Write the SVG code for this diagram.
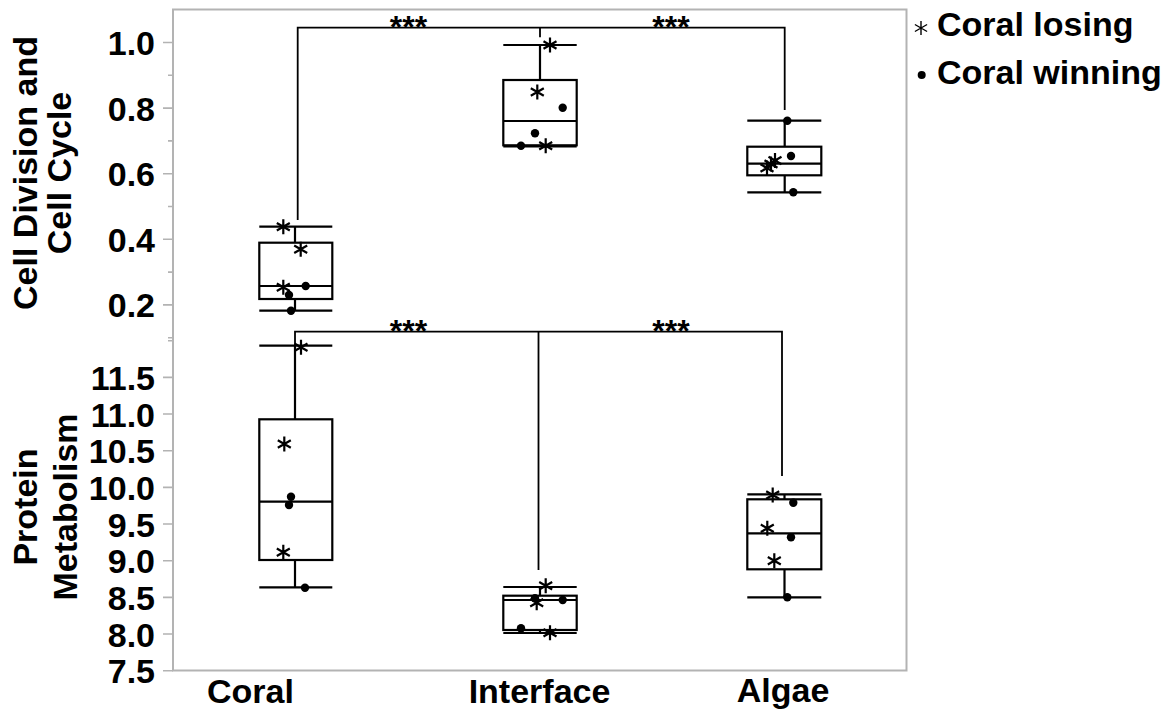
<svg xmlns="http://www.w3.org/2000/svg" xmlns:xlink="http://www.w3.org/1999/xlink" width="1174" height="713" viewBox="0 0 1174 713">
  <style>
    .frame { fill: none; stroke: #b3b3b3; stroke-width: 2; }
    .tick { stroke: #b3b3b3; stroke-width: 1.6; }
    .lbl { font-family: "Liberation Sans", Arial, sans-serif; font-weight: bold; fill: #000; }
    .tk { font-size: 34px; text-anchor: end; }
    .ttl { font-size: 34px; text-anchor: middle; }
    .xl { font-size: 34px; text-anchor: middle; }
    .sig { font-size: 32px; text-anchor: middle; }
    .leg { font-size: 34px; }
    .box { fill: none; stroke: #000; stroke-width: 2.2; }
    .wh { fill: none; stroke: #000; stroke-width: 2.2; }
    .br { fill: none; stroke: #000; stroke-width: 1.8; }
    .dot { fill: #000; }
  </style>
  <defs>
    <path id="star" d="M0,-7.5 V7.5 M-6.5,-3.75 L6.5,3.75 M-6.5,3.75 L6.5,-3.75" fill="none" stroke="#000" stroke-width="2.2"/>
    <path id="legstar" d="M0,-7 V7 M-6.1,-3.5 L6.1,3.5 M-6.1,3.5 L6.1,-3.5" fill="none" stroke="#000" stroke-width="1.4"/>
  </defs>
  <rect width="1174" height="713" fill="#fff"/>

  <!-- plot frame and y axis -->
  <g id="axes">
    <rect class="frame" x="173" y="9.5" width="733.5" height="661"/>
    <!-- upper panel ticks -->
    <path class="tick" d="M163,42.5H173 M163,108.1H173 M163,173.7H173 M163,239.3H173 M163,304.9H173 M168,75.3H173 M168,140.9H173 M168,206.5H173 M168,272.1H173 M168,337.7H173"/>
    <!-- lower panel ticks -->
    <path class="tick" d="M168,340.7H173 M163,377.4H173 M163,414H173 M163,450.7H173 M163,487.4H173 M163,524H173 M163,560.7H173 M163,597.4H173 M163,634H173 M163,670.7H173"/>
    <g class="lbl tk">
      <text x="155" y="55">1.0</text>
      <text x="155" y="120.6">0.8</text>
      <text x="155" y="186.2">0.6</text>
      <text x="155" y="251.8">0.4</text>
      <text x="155" y="317.4">0.2</text>
      <text x="155" y="389.9">11.5</text>
      <text x="155" y="426.5">11.0</text>
      <text x="155" y="463.2">10.5</text>
      <text x="155" y="499.9">10.0</text>
      <text x="155" y="536.5">9.5</text>
      <text x="155" y="573.2">9.0</text>
      <text x="155" y="609.9">8.5</text>
      <text x="155" y="646.5">8.0</text>
      <text x="155" y="683.2">7.5</text>
    </g>
  </g>

  <!-- axis titles -->
  <g id="titles" class="lbl">
    <text class="ttl" transform="translate(36.5,173) rotate(-90)">Cell Division and</text>
    <text class="ttl" transform="translate(70.5,173) rotate(-90)">Cell Cycle</text>
    <text class="ttl" transform="translate(36.5,507) rotate(-90)">Protein</text>
    <text class="ttl" transform="translate(76.5,507) rotate(-90)">Metabolism</text>
    <text class="xl" x="250.5" y="703">Coral</text>
    <text class="xl" x="539.5" y="703">Interface</text>
    <text class="xl" x="783" y="702">Algae</text>
  </g>

  <!-- upper panel: Cell Division and Cell Cycle -->
  <g id="cc-coral">
    <rect class="box" x="259.3" y="242.7" width="73" height="56.3"/>
    <path class="wh" d="M259.3,286H332.3 M295,242.7V226.7 M259.3,226.7H332.3 M295,299V310.7 M259.3,310.7H332.3"/>
    <use xlink:href="#star" x="283.3" y="226.7"/>
    <use xlink:href="#star" x="300.7" y="249.3"/>
    <use xlink:href="#star" x="283.3" y="287.3"/>
    <circle class="dot" cx="305.7" cy="286" r="4.2"/>
    <circle class="dot" cx="289" cy="295" r="4.2"/>
    <circle class="dot" cx="291" cy="310.7" r="4.2"/>
  </g>
  <g id="cc-interface">
    <rect class="box" x="503.3" y="80" width="73.4" height="65.3"/>
    <path class="wh" d="M503.3,121H576.7 M540,80V45 M503.3,45H576.7 M503.3,146.5H576.7"/>
    <use xlink:href="#star" x="550" y="45"/>
    <use xlink:href="#star" x="537.3" y="92"/>
    <use xlink:href="#star" x="545.7" y="145.7"/>
    <circle class="dot" cx="562.7" cy="107.7" r="4.2"/>
    <circle class="dot" cx="535" cy="133.3" r="4.2"/>
    <circle class="dot" cx="521" cy="145.7" r="4.2"/>
  </g>
  <g id="cc-algae">
    <rect class="box" x="747.3" y="146.7" width="74" height="28.6"/>
    <path class="wh" d="M747.3,163.7H821.3 M784.7,146.7V120.7 M747.3,120.7H821.3 M784.7,175.3V192.3 M747.3,192.3H821.3"/>
    <use xlink:href="#star" x="767" y="168"/>
    <use xlink:href="#star" x="771" y="164"/>
    <use xlink:href="#star" x="775" y="160.5"/>
    <circle class="dot" cx="787.3" cy="120.7" r="4.2"/>
    <circle class="dot" cx="791" cy="156" r="4.2"/>
    <circle class="dot" cx="793.3" cy="192.3" r="4.2"/>
  </g>

  <!-- lower panel: Protein Metabolism -->
  <g id="pm-coral">
    <rect class="box" x="259.3" y="419.3" width="73" height="140.7"/>
    <path class="wh" d="M259.3,501.7H332.3 M295,419.3V345.7 M259.3,345.7H332.3 M295,560V587.3 M259.3,587.3H332.3"/>
    <use xlink:href="#star" x="301" y="347.3"/>
    <use xlink:href="#star" x="284.3" y="444"/>
    <use xlink:href="#star" x="283.3" y="552.3"/>
    <circle class="dot" cx="291" cy="496.7" r="4.2"/>
    <circle class="dot" cx="289" cy="505" r="4.2"/>
    <circle class="dot" cx="305" cy="587.7" r="4.2"/>
  </g>
  <g id="pm-interface">
    <rect class="box" x="503.3" y="595.7" width="73.4" height="34.3"/>
    <path class="wh" d="M503.3,600H576.7 M540,595.7V587 M503.3,587H576.7 M540,630V633 M503.3,633H576.7"/>
    <use xlink:href="#star" x="545.7" y="585.7"/>
    <use xlink:href="#star" x="536.7" y="602.7"/>
    <use xlink:href="#star" x="550" y="632.7"/>
    <circle class="dot" cx="535" cy="598.3" r="4.2"/>
    <circle class="dot" cx="562.7" cy="600" r="4.2"/>
    <circle class="dot" cx="521" cy="628.3" r="4.2"/>
  </g>
  <g id="pm-algae">
    <rect class="box" x="747.3" y="499.3" width="74" height="70"/>
    <path class="wh" d="M747.3,533.3H821.3 M784.5,499.3V494.3 M747.3,494.3H821.3 M784.5,569.3V597.3 M747.3,597.3H821.3"/>
    <use xlink:href="#star" x="772.7" y="495"/>
    <use xlink:href="#star" x="767.3" y="528.3"/>
    <use xlink:href="#star" x="774.3" y="560.7"/>
    <circle class="dot" cx="793.3" cy="502.7" r="4.2"/>
    <circle class="dot" cx="791" cy="537.3" r="4.2"/>
    <circle class="dot" cx="787.3" cy="597.3" r="4.2"/>
  </g>

  <!-- significance brackets -->
  <g id="connectors">
    <path class="br" d="M297.7,220V27.7H784.7V110 M540,27.7V37.3"/>
    <path class="br" d="M295,345V331.7H782V476 M538.5,331.7V570"/>
    <g class="lbl sig">
      <text x="408.5" y="38">***</text>
      <text x="671" y="38">***</text>
      <text x="408.5" y="341.5">***</text>
      <text x="671" y="341.5">***</text>
    </g>
  </g>

  <!-- legend -->
  <g id="legend">
    <use xlink:href="#legstar" x="921" y="28"/>
    <text class="lbl leg" x="937" y="36">Coral losing</text>
    <circle class="dot" cx="921.7" cy="75" r="4"/>
    <text class="lbl leg" x="937" y="83.5">Coral winning</text>
  </g>
</svg>
